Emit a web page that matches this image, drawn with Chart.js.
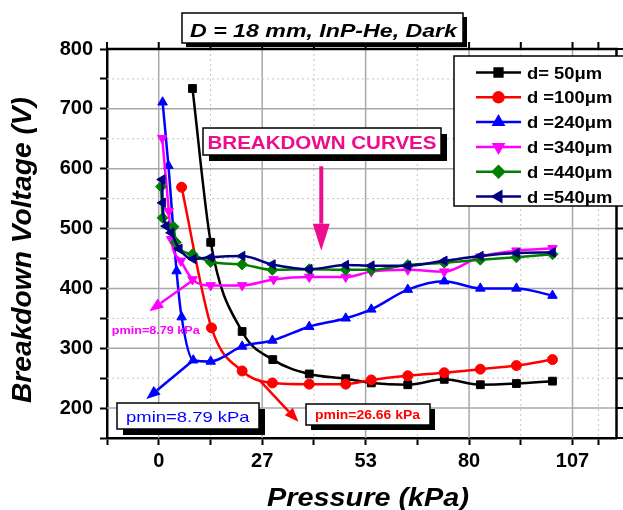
<!DOCTYPE html>
<html>
<head>
<meta charset="utf-8">
<script src="https://cdn.jsdelivr.net/npm/chart.js@4.4.1/dist/chart.umd.min.js"></script>
<style>
  html, body { margin: 0; padding: 0; background: #fff; overflow: hidden; }
  #chartCanvas { display: block; }
</style>
</head>
<body>
<canvas id="chartCanvas" width="623" height="510"></canvas>
<script>
// Breakdown voltage vs gas pressure (D = 18 mm, InP-He, dark)
// pressures shared by all gaps above ~35 kPa
const pHigh = [38.8, 48.2, 54.8, 64.2, 73.6, 82.9, 92.2, 101.5];

const p50  = [8.7, 13.4, 21.5, 29.4, ...pHigh];
const v50  = [734, 477, 328, 281, 257, 249, 242, 239, 248, 239, 241, 245];

const p100 = [5.9, 13.6, 21.5, 29.3, ...pHigh];
const v100 = [569, 334, 262, 242, 240, 240, 247, 254, 259, 265, 271, 281];

const p240 = [1.0, 2.5, 4.6, 5.9, 8.9, 13.4, 21.5, 29.3, ...pHigh];
const v240 = [711, 605, 429, 352, 280, 278, 303, 313, 336, 350, 365, 398, 412, 400, 400, 388];

const p340 = [0.9, 2.6, 3.2, 5.7, 8.7, 13.4, 21.5, 29.6, ...pHigh];
const v340 = [651, 529, 482, 446, 415, 405, 405, 415, 419, 419, 428, 431, 428, 453, 463, 467];

const p440 = [0.6, 1.0, 3.8, 4.4, 8.7, 13.4, 21.5, 29.3, ...pHigh];
const v440 = [570, 518, 503, 477, 457, 444, 440, 431, 432, 431, 431, 439, 443, 448, 452, 457];

const p540 = [0.9, 1.0, 1.9, 3.2, 5.3, 8.9, 13.4, 21.5, 29.3, ...pHigh];
const v540 = [582, 543, 504, 493, 466, 449, 452, 454, 440, 432, 439, 438, 438, 446, 454, 459, 460];

const seriesLabels = ['d= 50\u03bcm', 'd =100\u03bcm', 'd =240\u03bcm', 'd =340\u03bcm', 'd =440\u03bcm', 'd =540\u03bcm'];

// axis ticks (kPa steps of 200 Torr)
const xMin = -13.333, xMax = 118;
const xTicks = [-13.333, 0, 13.333, 26.667, 40, 53.333, 66.667, 80, 93.333, 106.667, 113.333];
const xMajor = [0, 26.667, 53.333, 80, 106.667];
const xTickLabels = ['0', '27', '53', '80', '107'];
const yTicks = [150, 200, 250, 300, 350, 400, 450, 500, 550, 600, 650, 700, 750, 800];
const yMajor = [200, 300, 400, 500, 600, 700, 800];
const yTickLabels = ['200', '300', '400', '500', '600', '700', '800'];

// arrows: [fromX, fromY, toX, toY] in data units
const arrowPink    = [41.9, 604, 41.9, 463];
const arrowMagenta = [9.1, 415, -2.4, 362];
const arrowBlue    = [8.9, 280, -3.2, 215];
const arrowRed     = [26.2, 245, 36.0, 177];

const styles = [
  { color: '#000000', point: 'rect', rot: 0, r: 5.5 },
  { color: '#ff0000', point: 'circle', rot: 0, r: 5 },
  { color: '#0000ff', point: 'triangle', rot: 0, r: 5.5 },
  { color: '#ff00ff', point: 'triangle', rot: 180, r: 5.5 },
  { color: '#008000', point: 'rectRot', rot: 0, r: 5.5 },
  { color: '#000080', point: 'triangle', rot: -90, r: 5.5 }
];
const xs = [p50, p100, p240, p340, p440, p540];
const ys = [v50, v100, v240, v340, v440, v540];

const FONT = '"Liberation Sans", Arial, sans-serif';
const PINK = '#ec0c8c';

function near(list, v) {
  return list.findIndex(m => Math.abs(m - v) < 0.01);
}

function fitText(ctx, text, cx, baseY, font, width, color, align) {
  ctx.save();
  ctx.font = font;
  const w = ctx.measureText(text).width;
  ctx.translate(cx, baseY);
  ctx.scale(width ? width / w : 1.15, 1);
  ctx.fillStyle = color;
  ctx.textAlign = align || 'center';
  ctx.textBaseline = 'alphabetic';
  ctx.fillText(text, 0, 0);
  ctx.restore();
}

function shadowBox(ctx, x0, y0, x1, y1, off) {
  ctx.fillStyle = '#000';
  ctx.fillRect(x0 + off, y0 + off, x1 - x0, y1 - y0);
  ctx.fillStyle = '#fff';
  ctx.fillRect(x0, y0, x1 - x0, y1 - y0);
  ctx.strokeStyle = '#000';
  ctx.lineWidth = 1.5;
  ctx.strokeRect(x0, y0, x1 - x0, y1 - y0);
}

function arrow(ctx, sx, sy, a, color, lw, hl, hw) {
  const x0 = sx.getPixelForValue(a[0]), y0 = sy.getPixelForValue(a[1]);
  const x1 = sx.getPixelForValue(a[2]), y1 = sy.getPixelForValue(a[3]);
  const ang = Math.atan2(y1 - y0, x1 - x0);
  const bx = x1 - hl * Math.cos(ang), by = y1 - hl * Math.sin(ang);
  ctx.strokeStyle = color;
  ctx.fillStyle = color;
  ctx.lineWidth = lw;
  ctx.beginPath();
  ctx.moveTo(x0, y0);
  ctx.lineTo(bx, by);
  ctx.stroke();
  ctx.beginPath();
  ctx.moveTo(x1, y1);
  ctx.lineTo(bx + hw / 2 * Math.sin(ang), by - hw / 2 * Math.cos(ang));
  ctx.lineTo(bx - hw / 2 * Math.sin(ang), by + hw / 2 * Math.cos(ang));
  ctx.closePath();
  ctx.fill();
}

const decor = {
  id: 'decor',
  beforeDatasetsDraw(chart) {
    const { ctx, chartArea: a, scales: { x, y } } = chart;
    ctx.save();
    // grid inside the plot
    const grid = (x0, y0, x1, y1, major) => {
      ctx.beginPath();
      ctx.setLineDash(major ? [] : [2, 3]);
      ctx.strokeStyle = major ? '#a8a8a8' : '#c4c4c4';
      ctx.lineWidth = major ? 1.5 : 1;
      ctx.moveTo(x0, y0);
      ctx.lineTo(x1, y1);
      ctx.stroke();
    };
    xTicks.forEach(v => {
      if (v <= xMin + 0.01 || v >= xMax) return;
      const px = x.getPixelForValue(v);
      grid(px, a.top, px, a.bottom, near(xMajor, v) >= 0);
    });
    yTicks.forEach(v => {
      if (v <= 150 || v >= 800) return;
      const py = y.getPixelForValue(v);
      grid(a.left, py, a.right, py, near(yMajor, v) >= 0);
    });
    ctx.setLineDash([]);
    // top and right frame with outward ticks
    ctx.strokeStyle = '#000';
    ctx.lineWidth = 2.5;
    ctx.beginPath();
    ctx.moveTo(a.left, a.top);
    ctx.lineTo(a.right, a.top);
    ctx.lineTo(a.right, a.bottom);
    ctx.stroke();
    ctx.lineWidth = 2;
    ctx.beginPath();
    xTicks.forEach(v => {
      const px = x.getPixelForValue(v);
      ctx.moveTo(px, a.top);
      ctx.lineTo(px, a.top - 7);
    });
    yTicks.forEach(v => {
      const py = y.getPixelForValue(v);
      ctx.moveTo(a.right, py);
      ctx.lineTo(a.right + 7, py);
    });
    ctx.stroke();
    ctx.restore();
  },
  afterDraw(chart) {
    const { ctx, scales: { x, y } } = chart;
    ctx.save();

    // title box
    shadowBox(ctx, 182, 13, 463, 43, 4);
    fitText(ctx, 'D = 18 mm, InP-He, Dark', 323.5, 36.7, 'italic bold 19px ' + FONT, 267, '#000');

    // breakdown curves label and arrow
    shadowBox(ctx, 203, 128, 441, 155, 6);
    fitText(ctx, 'BREAKDOWN CURVES', 322, 149.3, 'bold 18px ' + FONT, 229, PINK);
    arrow(ctx, x, y, arrowPink, PINK, 4, 27, 17);

    // pmin annotations
    arrow(ctx, x, y, arrowMagenta, '#ff00ff', 2.5, 14, 11);
    fitText(ctx, 'pmin=8.79 kPa', 155.8, 334, 'bold 11px ' + FONT, 88, '#ff00ff');

    arrow(ctx, x, y, arrowBlue, '#0000ff', 2.5, 14, 11);
    shadowBox(ctx, 117, 403, 259, 429, 6);
    fitText(ctx, 'pmin=8.79 kPa', 187.8, 421.7, '15px ' + FONT, 123.5, '#0000ff');

    arrow(ctx, x, y, arrowRed, '#ff0000', 2.5, 14, 11);
    shadowBox(ctx, 306, 404, 430, 425, 5);
    fitText(ctx, 'pmin=26.66 kPa', 367.5, 419.3, 'bold 12px ' + FONT, 105, '#ff0000');

    // legend
    ctx.fillStyle = '#fff';
    ctx.fillRect(454, 56, 190, 150);
    ctx.strokeStyle = '#000';
    ctx.lineWidth = 1.5;
    ctx.strokeRect(454, 56, 190, 150);
    seriesLabels.forEach((lab, i) => {
      const s = styles[i];
      const ly = 72.5 + i * 24.8;
      ctx.strokeStyle = s.color;
      ctx.fillStyle = s.color;
      ctx.lineWidth = 2.5;
      ctx.beginPath();
      ctx.moveTo(476, ly);
      ctx.lineTo(521, ly);
      ctx.stroke();
      Chart.helpers.drawPoint(ctx, { pointStyle: s.point, rotation: s.rot, radius: s.r, borderWidth: 1 }, 498.5, ly);
      fitText(ctx, lab, 527, ly + 6, 'bold 16px ' + FONT, 0, '#000', 'left');
    });

    // axis titles
    ctx.save();
    ctx.translate(31, 250);
    ctx.rotate(-Math.PI / 2);
    fitText(ctx, 'Breakdown Voltage (V)', 0, 0, 'italic bold 27px ' + FONT, 306, '#000');
    ctx.restore();
    fitText(ctx, 'Pressure (kPa)', 368, 506, 'italic bold 26px ' + FONT, 202, '#000');

    ctx.restore();
  }
};

const ctx = document.getElementById('chartCanvas').getContext('2d');

new Chart(ctx, {
  type: 'line',
  data: {
    datasets: seriesLabels.map((lab, i) => ({
      label: lab,
      data: xs[i].map((p, j) => ({ x: p, y: ys[i][j] })),
      borderColor: styles[i].color,
      backgroundColor: styles[i].color,
      borderWidth: 2.5,
      pointStyle: styles[i].point,
      pointRotation: styles[i].rot,
      pointRadius: styles[i].r,
      pointBorderWidth: 1,
      cubicInterpolationMode: 'monotone',
      fill: false,
      order: 5 - i
    }))
  },
  options: {
    responsive: false,
    animation: false,
    events: [],
    layout: { padding: { top: 49, right: 2, left: 0, bottom: 0 } },
    plugins: {
      legend: { display: false },
      tooltip: { enabled: false }
    },
    scales: {
      x: {
        type: 'linear',
        min: xMin,
        max: xMax,
        afterBuildTicks: s => { s.ticks = xTicks.filter(v => v <= xMax).map(v => ({ value: v })); },
        afterFit: s => { s.height = 72; },
        ticks: {
          autoSkip: false,
          maxRotation: 0,
          padding: 4,
          color: '#000',
          font: { family: FONT, size: 20, weight: 'bold' },
          callback: v => { const k = near(xMajor, v); return k >= 0 ? xTickLabels[k] : ''; }
        },
        grid: { drawOnChartArea: false, tickLength: 7, tickColor: '#000', tickWidth: 2 },
        border: { color: '#000', width: 2.5 }
      },
      y: {
        min: 150,
        max: 800,
        afterBuildTicks: s => { s.ticks = yTicks.map(v => ({ value: v })); },
        afterFit: s => { s.width = 107; },
        ticks: {
          autoSkip: false,
          padding: 7,
          color: '#000',
          font: { family: FONT, size: 20, weight: 'bold' },
          callback: v => { const k = near(yMajor, v); return k >= 0 ? yTickLabels[k] : ''; }
        },
        grid: { drawOnChartArea: false, tickLength: 7, tickColor: '#000', tickWidth: 2 },
        border: { color: '#000', width: 2.5 }
      }
    }
  },
  plugins: [decor]
});
</script>
</body>
</html>
